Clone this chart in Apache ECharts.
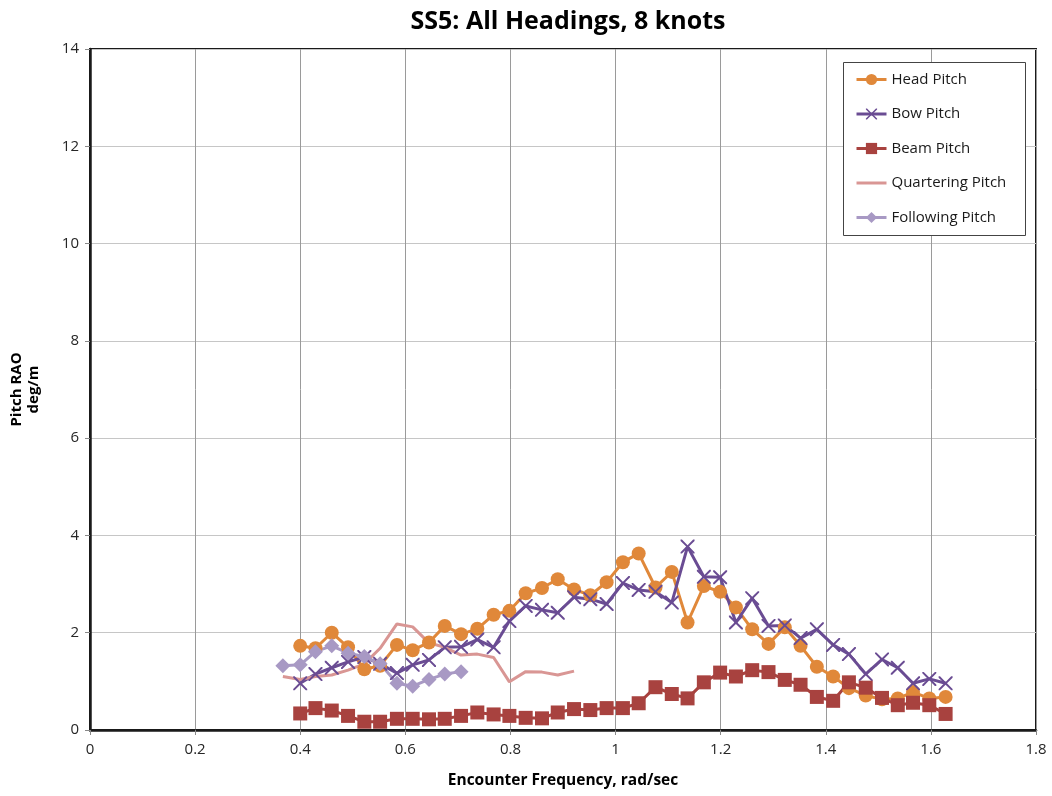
<!DOCTYPE html>
<html>
<head>
<meta charset="utf-8">
<script src="https://cdn.jsdelivr.net/npm/echarts@6/dist/echarts.min.js"></script>
<style>
  html, body { margin: 0; padding: 0; background: #fff; }
  #chart { width: 1052px; height: 796px; }
</style>
</head>
<body>
<div id="chart"></div>
<script>
// Encounter frequencies (rad/sec)
const freqMain = [0.400, 0.429, 0.460, 0.491, 0.522, 0.552, 0.584, 0.614, 0.645, 0.675,
  0.706, 0.737, 0.768, 0.798, 0.829, 0.860, 0.890, 0.921, 0.952, 0.983,
  1.014, 1.044, 1.076, 1.107, 1.137, 1.168, 1.199, 1.229, 1.260, 1.291,
  1.322, 1.352, 1.383, 1.414, 1.444, 1.476, 1.507, 1.537, 1.566, 1.597, 1.628];
const freqQuartering = [0.367, 0.400, 0.429, 0.460, 0.491, 0.522, 0.552, 0.584, 0.614, 0.645,
  0.675, 0.706, 0.737, 0.768, 0.798, 0.829, 0.860, 0.890, 0.921];
const freqFollowing = [0.367, 0.400, 0.429, 0.460, 0.491, 0.522, 0.552, 0.584, 0.614, 0.645,
  0.675, 0.706];

// Pitch RAO (deg/m)
const headPitch = [1.73, 1.68, 2.00, 1.70, 1.25, 1.32, 1.75, 1.64, 1.80, 2.14,
  1.97, 2.08, 2.37, 2.45, 2.81, 2.92, 3.10, 2.89, 2.77, 3.04,
  3.45, 3.63, 2.93, 3.25, 2.21, 2.96, 2.84, 2.52, 2.07, 1.77,
  2.11, 1.73, 1.30, 1.10, 0.86, 0.71, 0.63, 0.65, 0.78, 0.65, 0.68];
const bowPitch = [0.96, 1.15, 1.28, 1.40, 1.50, 1.36, 1.17, 1.34, 1.44, 1.70,
  1.71, 1.86, 1.70, 2.24, 2.55, 2.47, 2.41, 2.73, 2.69, 2.59,
  3.02, 2.88, 2.84, 2.62, 3.77, 3.15, 3.14, 2.21, 2.71, 2.14,
  2.15, 1.89, 2.07, 1.75, 1.56, 1.15, 1.45, 1.28, 0.96, 1.05, 0.96];
const beamPitch = [0.34, 0.45, 0.40, 0.29, 0.17, 0.17, 0.23, 0.23, 0.22, 0.23,
  0.29, 0.36, 0.32, 0.29, 0.25, 0.24, 0.36, 0.43, 0.41, 0.45,
  0.45, 0.55, 0.88, 0.74, 0.65, 0.98, 1.18, 1.10, 1.23, 1.19,
  1.03, 0.93, 0.68, 0.60, 0.98, 0.87, 0.66, 0.51, 0.56, 0.51, 0.33];
const quarteringPitch = [1.10, 1.04, 1.10, 1.13, 1.23, 1.36, 1.68, 2.18, 2.12, 1.79,
  1.70, 1.54, 1.56, 1.49, 0.99, 1.20, 1.19, 1.13, 1.21];
const followingPitch = [1.32, 1.34, 1.61, 1.73, 1.58, 1.51, 1.36, 0.96, 0.90, 1.04,
  1.15, 1.20];

const seriesNames = ['Head Pitch', 'Bow Pitch', 'Beam Pitch', 'Quartering Pitch', 'Following Pitch'];
const colors = ['#E0883A', '#6A4C93', '#A8423F', '#D99694', '#A899C4'];

const pairs = (xs, ys) => xs.map((x, i) => [x, ys[i]]);

const crossPath = 'path://M0,0 L2,0 L10,8 L18,0 L20,0 L20,2 L12,10 L20,18 L20,20 L18,20 L10,12 L2,20 L0,20 L0,18 L8,10 L0,2 Z';

const FONT = 'Open Sans';

const chart = echarts.init(document.getElementById('chart'), null, { renderer: 'canvas' });

chart.setOption({
  animation: false,
  backgroundColor: '#fff',
  color: colors,
  title: {
    text: 'SS5: All Headings, 8 knots',
    left: 563,
    textAlign: 'center',
    top: 4,
    textStyle: { fontFamily: FONT, fontSize: 25, fontWeight: 'bold', color: '#000' }
  },
  graphic: [{
    type: 'rect',
    shape: { x: 843.5, y: 62.5, width: 182, height: 173 },
    style: { fill: '#fff', stroke: '#444', lineWidth: 1 },
    z: 90
  }],
  legend: {
    orient: 'vertical',
    left: 843,
    top: 62,
    padding: [10, 12, 12, 12],
    itemGap: 19.5,
    itemWidth: 30,
    itemHeight: 14,
    z: 100,
    lineStyle: { width: 3 },
    textStyle: { fontFamily: FONT, fontSize: 15, color: '#1a1a1a' },
    data: [
      seriesNames[0],
      seriesNames[1],
      seriesNames[2],
      { name: seriesNames[3], itemStyle: { opacity: 0 } },
      seriesNames[4]
    ]
  },
  grid: {
    left: 89, right: 16, top: 49, bottom: 66,
    show: true, borderColor: '#1a1a1a', borderWidth: 2
  },
  xAxis: {
    type: 'value',
    min: 0, max: 1.8, interval: 0.2,
    name: 'Encounter Frequency, rad/sec',
    nameLocation: 'middle',
    nameGap: 43,
    nameTextStyle: { fontFamily: FONT, fontSize: 15.5, fontWeight: 'bold', color: '#000' },
    axisLine: { show: true, onZero: false, lineStyle: { color: '#1a1a1a', width: 2.5 } },
    axisTick: { show: true, length: 5, lineStyle: { color: '#888' } },
    axisLabel: {
      margin: 12, fontFamily: FONT, fontSize: 15, color: '#262626',
      formatter: v => String(Math.round(v * 10) / 10)
    },
    splitLine: { show: true, lineStyle: { color: '#9a9a9a', width: 1 } }
  },
  yAxis: {
    type: 'value',
    min: 0, max: 14, interval: 2,
    name: 'Pitch RAO\ndeg/m',
    nameLocation: 'middle',
    nameGap: 48,
    nameRotate: 90,
    nameTextStyle: { fontFamily: FONT, fontSize: 15, fontWeight: 'bold', color: '#000', lineHeight: 17 },
    axisLine: { show: true, lineStyle: { color: '#1a1a1a', width: 2.5 } },
    axisTick: { show: true, length: 5, lineStyle: { color: '#888' } },
    axisLabel: { margin: 11, fontFamily: FONT, fontSize: 15, color: '#262626' },
    splitLine: { show: true, lineStyle: { color: '#c6c6c6', width: 1 } }
  },
  series: [
    {
      name: seriesNames[0], type: 'line', data: pairs(freqMain, headPitch),
      symbol: 'circle', symbolSize: 14,
      lineStyle: { width: 3 }, itemStyle: { color: colors[0] }
    },
    {
      name: seriesNames[1], type: 'line', data: pairs(freqMain, bowPitch),
      symbol: crossPath, symbolSize: 14,
      lineStyle: { width: 3 }, itemStyle: { color: colors[1] }
    },
    {
      name: seriesNames[2], type: 'line', data: pairs(freqMain, beamPitch),
      symbol: 'rect', symbolSize: 14,
      lineStyle: { width: 3 }, itemStyle: { color: colors[2] }
    },
    {
      name: seriesNames[3], type: 'line', data: pairs(freqQuartering, quarteringPitch),
      symbol: 'none', showSymbol: false,
      lineStyle: { width: 3 }, itemStyle: { color: colors[3] }
    },
    {
      name: seriesNames[4], type: 'line', data: pairs(freqFollowing, followingPitch),
      symbol: 'diamond', symbolSize: 15,
      lineStyle: { width: 3 }, itemStyle: { color: colors[4] }
    }
  ]
});
</script>
</body>
</html>
